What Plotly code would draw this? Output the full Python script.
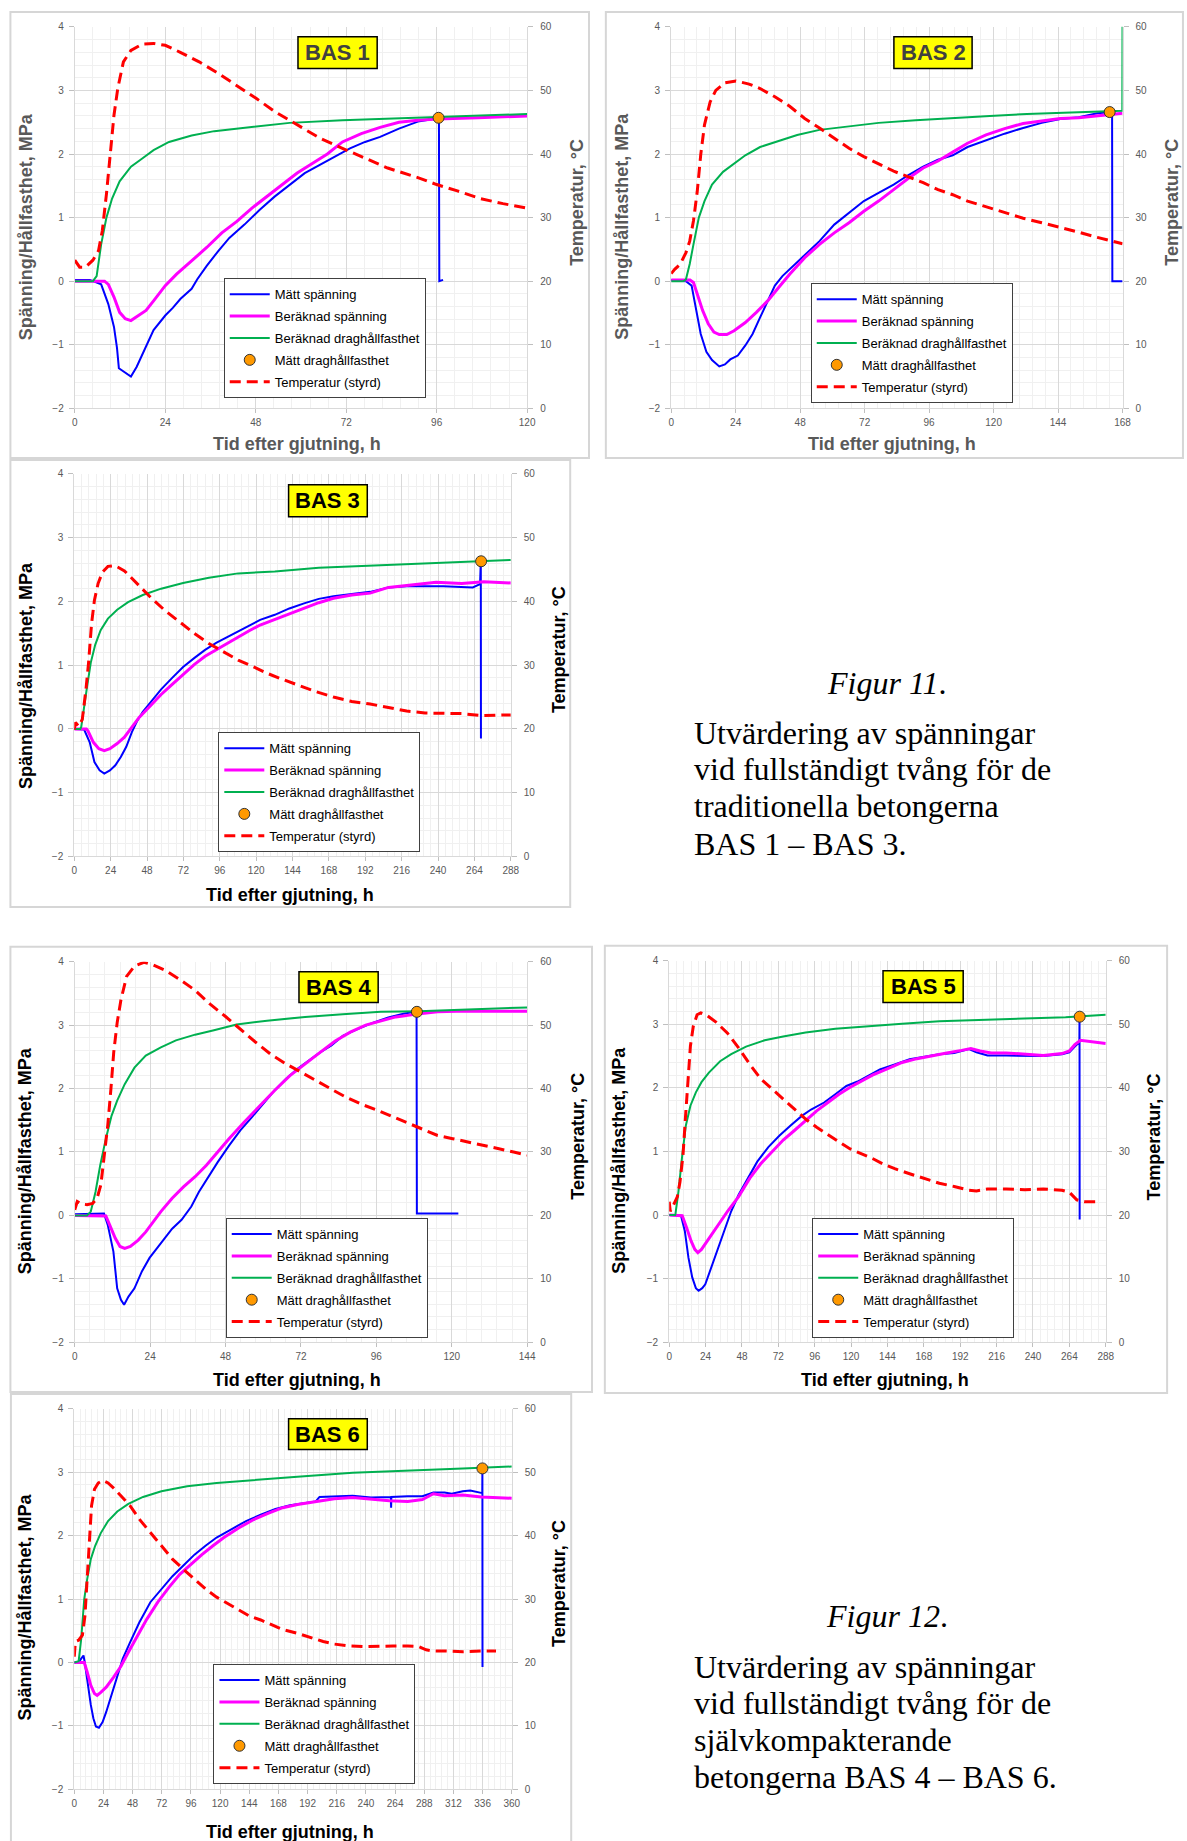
import plotly.graph_objects as go

W, H = 1187, 1841

# ---------------- BAS 1 ----------------
BAS1_MATT_T = [0, 4, 7, 8.9, 10.4, 11.2, 11.7, 12.9, 14.9, 16.4, 18.4, 20.9, 24, 26, 28, 31, 32.5, 35, 38, 41, 45, 49, 53, 57, 61, 65, 69, 73, 77, 81, 86, 91, 96, 96.6, 96.7, 97.7]
BAS1_MATT_V = [0.02, 0.02, -0.05, -0.36, -0.72, -1.05, -1.37, -1.42, -1.50, -1.35, -1.09, -0.77, -0.54, -0.42, -0.28, -0.12, 0.03, 0.24, 0.47, 0.68, 0.89, 1.12, 1.33, 1.51, 1.70, 1.83, 1.96, 2.09, 2.19, 2.27, 2.40, 2.51, 2.56, 2.57, 0.0, 0.02]
BAS1_BER_T = [0, 7.9, 8.9, 10.4, 11.9, 13.4, 14.9, 16.9, 18.9, 20.9, 24, 27, 31, 35, 39, 43, 47, 51, 55, 59, 63, 67, 71, 76, 81, 86, 91, 96, 107, 120]
BAS1_BER_V = [0.0, 0.0, -0.05, -0.25, -0.49, -0.59, -0.62, -0.54, -0.46, -0.31, -0.07, 0.11, 0.32, 0.53, 0.76, 0.94, 1.15, 1.33, 1.52, 1.70, 1.85, 2.00, 2.19, 2.32, 2.42, 2.50, 2.53, 2.55, 2.57, 2.60]
BAS1_DRAG_T = [0, 4.8, 5.8, 7, 8.4, 9.9, 11.9, 14.9, 17.9, 20.9, 25, 31, 37, 47, 57, 71, 91, 120]
BAS1_DRAG_V = [0, 0, 0.08, 0.58, 1.0, 1.3, 1.57, 1.80, 1.93, 2.06, 2.19, 2.29, 2.36, 2.42, 2.49, 2.53, 2.57, 2.63]
BAS1_PROV = ([96.5], [2.57])
BAS1_TEMP_T = [0, 1.3, 2.8, 4.8, 6.3, 7.3, 8.4, 9.4, 10.4, 11.4, 12.9, 14.9, 17.9, 20.9, 24, 28, 33, 38, 43, 48, 53, 59, 65, 71, 77, 83, 91, 96, 101.5, 107.5, 113.6, 120]
BAS1_TEMP_V = [23.3, 22.2, 22.2, 23.3, 24.8, 27.9, 33.7, 40.4, 46.1, 50.3, 54.5, 56.3, 57.3, 57.4, 57.1, 56.0, 54.5, 52.7, 50.8, 48.8, 46.7, 44.6, 42.5, 40.9, 39.4, 37.8, 36.3, 35.2, 34.2, 33.0, 32.2, 31.5]

# ---------------- BAS 2 ----------------
BAS2_MATT_T = [0, 5.5, 7.6, 9, 11, 13.1, 15.2, 17.9, 20, 22, 24.8, 27.6, 30.3, 33.1, 35.9, 38.6, 41.4, 45.5, 49.7, 55.2, 60.7, 66.2, 71.7, 77.2, 82.8, 88.3, 93.8, 99.3, 104.8, 110.3, 117.2, 124.1, 131, 137.9, 144.8, 151.7, 158.6, 163.4, 164.1, 164.2, 168]
BAS2_MATT_V = [0.02, 0.0, -0.07, -0.41, -0.83, -1.11, -1.24, -1.34, -1.31, -1.23, -1.17, -1.01, -0.83, -0.57, -0.31, -0.07, 0.08, 0.24, 0.42, 0.63, 0.89, 1.07, 1.26, 1.39, 1.52, 1.67, 1.80, 1.91, 1.98, 2.11, 2.22, 2.32, 2.41, 2.49, 2.55, 2.58, 2.64, 2.66, 2.66, 0.0, 0.0]
BAS2_BER_T = [0, 7, 8.3, 9.7, 11.7, 13.8, 15.9, 17.9, 20.7, 23.4, 27.6, 31.7, 35.9, 40, 44.1, 49.7, 55.2, 60.7, 66.2, 71.7, 77.2, 82.8, 88.3, 93.8, 99.3, 104.8, 110.3, 117.2, 124.1, 131, 137.9, 144.8, 151.7, 168]
BAS2_BER_V = [0.02, 0.02, -0.02, -0.2, -0.46, -0.67, -0.8, -0.84, -0.84, -0.78, -0.65, -0.49, -0.31, -0.1, 0.11, 0.37, 0.58, 0.76, 0.92, 1.10, 1.26, 1.44, 1.62, 1.78, 1.89, 2.03, 2.17, 2.30, 2.40, 2.48, 2.52, 2.56, 2.57, 2.64]
BAS2_DRAG_T = [0, 4.5, 5.5, 6.9, 8.3, 10.3, 12.4, 15.2, 19.3, 23.4, 27.6, 33.1, 38.6, 46.9, 55.2, 66.2, 77.2, 91, 104.8, 118.6, 132.4, 149, 166.9, 167.9, 168]
BAS2_DRAG_V = [0, 0, 0.03, 0.27, 0.58, 1.0, 1.26, 1.52, 1.72, 1.85, 1.98, 2.11, 2.19, 2.30, 2.38, 2.44, 2.49, 2.53, 2.57, 2.60, 2.63, 2.65, 2.68, 2.68, 4.5]
BAS2_PROV = ([163.2], [2.66])
BAS2_TEMP_T = [0, 1.4, 3.4, 5.5, 6.9, 8.3, 9.7, 11, 12.4, 14.5, 16.6, 20, 24.1, 29, 33.1, 38.6, 44.1, 49.7, 55.2, 60.7, 66.2, 71.7, 77.2, 82.8, 88.3, 93.8, 99.3, 104.8, 110.3, 117.2, 124.1, 131, 137.9, 144.8, 151.7, 158.6, 168]
BAS2_TEMP_V = [21.2, 21.9, 22.7, 24.5, 26.3, 29.5, 34.1, 39.9, 44.6, 48.2, 50.0, 51.2, 51.5, 51.0, 50.3, 49.0, 47.5, 45.6, 44.1, 42.5, 40.9, 39.6, 38.4, 37.3, 36.4, 35.5, 34.4, 33.6, 32.6, 31.7, 30.8, 29.9, 29.2, 28.5, 27.7, 26.9, 25.9]

# ---------------- BAS 3 ----------------
BAS3_MATT_T = [0, 6.5, 10.2, 13.3, 16.7, 19.8, 23.5, 27.1, 30.7, 34.3, 38, 41.6, 45.2, 50.1, 57.3, 64.6, 71.8, 79.1, 86.3, 93.6, 100.8, 108.1, 115.4, 122.6, 132.3, 141.9, 151.6, 161.3, 171, 183.1, 195.2, 207.3, 219.3, 243.5, 262.9, 267.7, 268.2, 268.3]
BAS3_MATT_V = [0.0, -0.01, -0.21, -0.52, -0.65, -0.70, -0.65, -0.57, -0.44, -0.28, -0.05, 0.13, 0.27, 0.41, 0.62, 0.80, 0.97, 1.11, 1.24, 1.35, 1.44, 1.53, 1.63, 1.71, 1.79, 1.89, 1.97, 2.04, 2.08, 2.11, 2.15, 2.22, 2.24, 2.24, 2.22, 2.27, 2.63, -0.15]
BAS3_BER_T = [0, 8, 9, 12.6, 16.2, 19.8, 23.5, 28.3, 33.1, 38, 42.8, 50.1, 57.3, 64.6, 71.8, 79.1, 86.3, 93.6, 100.8, 108.1, 115.4, 122.6, 132.3, 141.9, 151.6, 161.3, 171, 183.1, 195.2, 207.3, 219.3, 238.7, 255.6, 270.1, 288]
BAS3_BER_V = [0.0, 0.0, -0.03, -0.21, -0.31, -0.34, -0.31, -0.23, -0.13, 0.03, 0.18, 0.36, 0.54, 0.70, 0.85, 1.01, 1.14, 1.24, 1.35, 1.45, 1.54, 1.63, 1.72, 1.81, 1.90, 1.98, 2.05, 2.10, 2.13, 2.22, 2.25, 2.30, 2.28, 2.31, 2.29]
BAS3_DRAG_T = [0, 4, 4.6, 6.5, 8.5, 10.9, 13.8, 17.4, 22.2, 28.3, 35.5, 45.2, 57.3, 71.8, 88.8, 108.1, 132.3, 161.3, 195.2, 229, 262.9, 288]
BAS3_DRAG_V = [0, 0, 0.03, 0.31, 0.67, 1.04, 1.32, 1.55, 1.73, 1.87, 1.99, 2.10, 2.20, 2.29, 2.37, 2.44, 2.47, 2.53, 2.56, 2.60, 2.63, 2.65]
BAS3_PROV = ([268.4], [2.63])
BAS3_TEMP_T = [0, 0.8, 2.9, 5.3, 7.7, 9.4, 11.4, 13.3, 15.7, 18.6, 22.2, 27.1, 33.1, 40.4, 50.1, 59.7, 69.4, 79.1, 88.8, 98.4, 108.1, 117.8, 127.5, 137.1, 146.8, 158.9, 171, 183.1, 195.2, 207.3, 219.3, 231.4, 243.5, 255.6, 267.7, 288]
BAS3_TEMP_V = [19.9, 21.0, 20.4, 21.5, 26.2, 30.3, 36.5, 40.2, 42.8, 44.6, 45.5, 45.6, 44.8, 43.0, 40.7, 38.6, 36.8, 35.0, 33.4, 32.1, 30.8, 29.8, 28.7, 27.8, 26.9, 25.9, 25.0, 24.3, 23.9, 23.3, 22.8, 22.5, 22.4, 22.4, 22.1, 22.2]

# ---------------- BAS 4 ----------------
BAS4_MATT_T = [0, 9.3, 10.5, 12.3, 13.5, 14.7, 15.7, 17.1, 19, 21.4, 23.8, 26.2, 28.6, 31, 34, 37.1, 39.5, 42.5, 45.5, 49.1, 52.7, 56.4, 60, 63.6, 67.2, 70.8, 74.5, 78.1, 81.7, 85.3, 90.2, 95, 99.8, 104.6, 108.3, 108.8, 108.9, 122.1]
BAS4_MATT_V = [0.02, 0.03, -0.15, -0.57, -1.15, -1.33, -1.41, -1.28, -1.15, -0.88, -0.67, -0.52, -0.36, -0.21, -0.07, 0.14, 0.37, 0.61, 0.84, 1.10, 1.34, 1.55, 1.76, 1.97, 2.15, 2.31, 2.44, 2.57, 2.68, 2.83, 2.94, 3.04, 3.12, 3.18, 3.21, 3.21, 0.03, 0.03]
BAS4_BER_T = [0, 9.9, 11.1, 12.9, 14.4, 15.9, 17.7, 20.2, 22.6, 25, 27.4, 31, 34.6, 38.3, 41.9, 45.5, 49.1, 53.9, 58.8, 63.6, 68.4, 73.3, 78.1, 82.9, 87.7, 92.6, 97.4, 102.2, 108.3, 115.5, 121.5, 144]
BAS4_BER_V = [0.0, -0.01, -0.15, -0.36, -0.49, -0.52, -0.49, -0.39, -0.26, -0.10, 0.06, 0.27, 0.45, 0.61, 0.79, 1.0, 1.21, 1.47, 1.73, 1.97, 2.20, 2.38, 2.57, 2.75, 2.89, 3.00, 3.07, 3.13, 3.17, 3.21, 3.22, 3.22]
BAS4_DRAG_T = [0, 3.9, 5.1, 6.6, 8.1, 9.9, 11.7, 13.5, 15.9, 19, 22.6, 27.4, 32.2, 38.3, 44.3, 51.5, 61.2, 73.3, 85.3, 97.4, 109.5, 121.5, 133.6, 144]
BAS4_DRAG_V = [0, 0, 0.06, 0.37, 0.79, 1.21, 1.57, 1.81, 2.07, 2.33, 2.52, 2.65, 2.76, 2.85, 2.92, 3.01, 3.07, 3.13, 3.17, 3.21, 3.22, 3.24, 3.26, 3.28]
BAS4_PROV = ([108.9], [3.21])
BAS4_TEMP_T = [0, 0.8, 2.1, 3.9, 5.7, 7.1, 8.3, 9.5, 10.5, 11.5, 12.4, 13.5, 14.7, 16.5, 19, 22, 25, 28.6, 33.4, 38.3, 43.1, 47.9, 52.7, 57.6, 62.4, 67.2, 72, 76.9, 81.7, 86.5, 91.4, 96.2, 101, 105.8, 110.7, 115.5, 120.3, 125.2, 130, 134.8, 139.7, 144]
BAS4_TEMP_V = [20.9, 22.2, 21.8, 21.7, 21.9, 22.7, 24.8, 29.5, 34.2, 39.9, 45.7, 50.4, 54.0, 57.7, 59.3, 59.9, 59.5, 58.7, 57.2, 55.5, 53.3, 51.4, 49.3, 47.3, 45.4, 43.9, 42.6, 41.3, 39.9, 38.6, 37.5, 36.6, 35.6, 34.7, 33.7, 32.6, 32.1, 31.6, 31.1, 30.5, 30.0, 29.5]

# ---------------- BAS 5 ----------------
BAS5_MATT_T = [0, 7.8, 10.3, 12.7, 15.2, 17.6, 19.4, 21.8, 23.8, 26.2, 29.9, 33.6, 37.3, 40.9, 45.8, 50.7, 58.1, 65.4, 72.8, 80.1, 87.5, 93.6, 102.2, 109.6, 116.9, 124.3, 131.6, 139, 148.8, 158.6, 168.4, 178.2, 188, 197.8, 202.7, 210, 222.3, 234.6, 246.8, 259.1, 264, 268.9, 270.6, 270.7, 270.8]
BAS5_MATT_V = [0.0, -0.01, -0.25, -0.67, -0.98, -1.15, -1.19, -1.15, -1.09, -0.93, -0.70, -0.46, -0.2, 0.06, 0.32, 0.53, 0.84, 1.07, 1.25, 1.41, 1.56, 1.66, 1.77, 1.90, 2.03, 2.10, 2.19, 2.29, 2.37, 2.45, 2.49, 2.53, 2.55, 2.61, 2.56, 2.51, 2.51, 2.50, 2.50, 2.53, 2.56, 2.68, 2.71, 3.12, -0.07]
BAS5_BER_T = [0, 8.6, 11.5, 14.5, 16.9, 18.9, 21.3, 25, 28.7, 33.6, 38.5, 45.8, 53.2, 60.5, 67.9, 75.2, 82.6, 90, 97.3, 104.7, 112, 119.4, 126.7, 134.1, 143.8, 153.7, 163.5, 173.3, 183.1, 192.9, 199, 205.1, 212.5, 222.3, 234.6, 246.8, 259.1, 264, 267.6, 271.3, 288]
BAS5_BER_V = [0.0, -0.01, -0.2, -0.41, -0.54, -0.59, -0.54, -0.41, -0.28, -0.12, 0.06, 0.29, 0.58, 0.81, 0.99, 1.18, 1.33, 1.49, 1.64, 1.77, 1.90, 2.01, 2.11, 2.20, 2.30, 2.40, 2.46, 2.51, 2.55, 2.59, 2.62, 2.58, 2.55, 2.55, 2.53, 2.51, 2.54, 2.58, 2.68, 2.75, 2.70]
BAS5_DRAG_T = [0, 4, 4.2, 6.1, 8.6, 11, 14, 17.6, 21.3, 26.2, 33.6, 40.9, 50.7, 63, 75.2, 90, 109.6, 129.2, 153.7, 178.2, 202.7, 232.1, 261.5, 288]
BAS5_DRAG_V = [0, 0, 0.03, 0.37, 0.94, 1.41, 1.72, 1.93, 2.09, 2.24, 2.42, 2.53, 2.65, 2.75, 2.81, 2.87, 2.93, 2.97, 3.01, 3.05, 3.07, 3.09, 3.11, 3.15]
BAS5_PROV = ([270.8], [3.12])
BAS5_TEMP_T = [0, 0.7, 2.9, 5.4, 7.1, 9.1, 10.8, 12.3, 14, 15.9, 18.4, 20.8, 25, 31.1, 38.5, 45.8, 53.2, 60.5, 67.9, 75.2, 82.6, 90, 97.3, 104.7, 112, 119.4, 126.7, 134.1, 141.4, 148.8, 158.6, 168.4, 178.2, 188, 197.8, 202.7, 210, 222.3, 234.6, 246.8, 259.1, 264, 268.9, 273.8, 284.8]
BAS5_TEMP_V = [22.1, 20.6, 21.6, 22.9, 25.2, 29.4, 35.6, 41.4, 46.6, 49.7, 51.5, 51.8, 51.4, 50.3, 48.6, 46.3, 43.7, 41.4, 39.8, 38.2, 36.7, 35.1, 33.8, 32.6, 31.5, 30.4, 29.7, 28.9, 28.0, 27.3, 26.5, 25.8, 25.0, 24.5, 23.9, 23.8, 24.1, 24.1, 24.0, 24.1, 23.9, 23.6, 22.4, 22.1, 22.1]

# ---------------- BAS 6 ----------------
BAS6_MATT_T = [0, 3.6, 5.7, 7.6, 8.8, 11.2, 13.6, 15.7, 17.8, 20.3, 23.3, 26.3, 30.9, 35.4, 39.9, 46, 53.5, 62.6, 71.7, 80.8, 89.8, 98.9, 108, 117.1, 129.2, 141.3, 153.4, 165.5, 177.6, 189.7, 198.7, 201.8, 213.9, 229, 244.1, 260.5, 260.7, 260.9, 274.4, 286.4, 295.5, 304.6, 310.6, 319.7, 325.8, 334.9, 335.7, 335.8, 335.9]
BAS6_MATT_V = [0.0, 0.0, 0.06, 0.11, -0.02, -0.36, -0.67, -0.88, -1.01, -1.03, -0.94, -0.78, -0.49, -0.2, 0.06, 0.32, 0.63, 0.95, 1.16, 1.36, 1.53, 1.70, 1.84, 1.97, 2.10, 2.23, 2.33, 2.42, 2.48, 2.52, 2.54, 2.61, 2.62, 2.63, 2.60, 2.61, 2.44, 2.61, 2.62, 2.62, 2.68, 2.68, 2.66, 2.70, 2.71, 2.67, 2.67, 3.06, -0.07]
BAS6_BER_T = [0, 8.2, 10.6, 13.6, 16.6, 18.8, 21.8, 26.3, 32.4, 38.4, 44.5, 50.5, 59.6, 68.7, 77.7, 86.8, 95.9, 105, 114.1, 123.1, 135.2, 147.3, 159.4, 171.5, 183.6, 198.7, 213.9, 229, 244.1, 259.2, 274.4, 286.4, 295.5, 304.6, 319.7, 334.9, 360]
BAS6_BER_V = [0.0, 0.0, -0.15, -0.36, -0.49, -0.52, -0.47, -0.39, -0.23, -0.06, 0.16, 0.37, 0.68, 0.95, 1.18, 1.39, 1.55, 1.70, 1.84, 1.97, 2.12, 2.25, 2.35, 2.44, 2.49, 2.54, 2.58, 2.60, 2.57, 2.55, 2.54, 2.57, 2.66, 2.63, 2.64, 2.61, 2.59]
BAS6_DRAG_T = [0, 3.6, 5.7, 8.2, 10.6, 13.6, 17.2, 21.8, 27.8, 35.4, 44.5, 56.6, 71.7, 92.9, 117.1, 147.3, 183.6, 229, 274.4, 319.7, 360]
BAS6_DRAG_V = [0, 0.02, 0.37, 1.0, 1.31, 1.63, 1.84, 2.04, 2.23, 2.38, 2.50, 2.61, 2.70, 2.78, 2.83, 2.88, 2.93, 2.99, 3.03, 3.06, 3.09]
BAS6_PROV = ([335.8], [3.06])
BAS6_TEMP_T = [0, 0.9, 3.6, 6.7, 8.8, 10.6, 12.4, 14.2, 16.6, 19.7, 23.3, 27.8, 32.4, 38.4, 46, 53.5, 62.6, 71.7, 80.8, 89.8, 98.9, 108, 117.1, 126.1, 135.2, 144.3, 153.4, 162.4, 171.5, 183.6, 195.7, 204.8, 213.9, 226, 238.1, 250.2, 262.3, 274.4, 283.4, 289.5, 295.5, 304.6, 319.7, 334.9, 347]
BAS6_TEMP_V = [20.9, 23.3, 23.5, 24.3, 27.4, 33.2, 39.4, 44.7, 47.3, 48.3, 48.7, 48.3, 47.5, 46.2, 44.7, 42.6, 40.5, 38.4, 36.3, 34.7, 33.2, 31.6, 30.3, 29.3, 28.2, 27.3, 26.7, 25.9, 25.2, 24.6, 23.9, 23.3, 22.9, 22.6, 22.5, 22.6, 22.6, 22.6, 22.5, 22.0, 21.8, 21.8, 21.7, 21.8, 21.8]

# Series names and axis texts
SERIES_NAMES = ["Mätt spänning", "Beräknad spänning", "Beräknad draghållfasthet",
                "Mätt draghållfasthet", "Temperatur (styrd)"]
Y_TITLE = "Spänning/Hållfasthet, MPa"
Y2_TITLE = "Temperatur, °C"
X_TITLE = "Tid efter gjutning, h"

CAPTION_11 = ["Utvärdering av spänningar", "vid fullständigt tvång för de",
              "traditionella betongerna", "BAS 1 – BAS 3."]
CAPTION_12 = ["Utvärdering av spänningar", "vid fullständigt tvång för de",
              "självkompakterande", "betongerna BAS 4 – BAS 6."]

BLUE, MAGENTA, GREEN, RED, ORANGE = "#0000ff", "#ff00ff", "#00b050", "#ff0000", "#ff9900"
SANS = "Liberation Sans, Arial, sans-serif"
SERIF = "Liberation Serif, Times New Roman, serif"

# Layout of the six panels in page pixels:
# plot = (left, top, right, bottom), frame = outer border, box = title box,
# legend = top-left corner, ylab/rlab/xlab = centres of the axis titles
PANELS = [
    dict(title="BAS 1", xmax=120, plot=(72.5, 21, 529.5, 405), frame=(7.5, 6, 592, 455),
         box=(298, 31, 378, 63), legend=(223, 274), ylab=(23, 222), rlab=(580, 198), xlab=(297, 441),
         ink="#404040",
         data=(BAS1_MATT_T, BAS1_MATT_V, BAS1_BER_T, BAS1_BER_V, BAS1_DRAG_T, BAS1_DRAG_V, BAS1_PROV, BAS1_TEMP_T, BAS1_TEMP_V)),
    dict(title="BAS 2", xmax=168, plot=(675, 21, 1131, 405), frame=(609, 6, 1192, 455),
         box=(900, 31, 979, 63), legend=(816, 279), ylab=(624.5, 222), rlab=(1181, 198), xlab=(898, 441),
         ink="#404040",
         data=(BAS2_MATT_T, BAS2_MATT_V, BAS2_BER_T, BAS2_BER_V, BAS2_DRAG_T, BAS2_DRAG_V, BAS2_PROV, BAS2_TEMP_T, BAS2_TEMP_V)),
    dict(title="BAS 3", xmax=288, plot=(72, 471, 513, 856), frame=(7.5, 457, 573, 907),
         box=(288.5, 482, 368, 514), legend=(217.5, 731), ylab=(22.7, 674), rlab=(561, 648), xlab=(289.5, 895),
         ink="#000000",
         data=(BAS3_MATT_T, BAS3_MATT_V, BAS3_BER_T, BAS3_BER_V, BAS3_DRAG_T, BAS3_DRAG_V, BAS3_PROV, BAS3_TEMP_T, BAS3_TEMP_V)),
    dict(title="BAS 4", xmax=144, plot=(72.5, 962, 529.5, 1345), frame=(7.5, 947, 595, 1395),
         box=(299, 972, 379, 1003), legend=(225, 1220), ylab=(23, 1162), rlab=(580, 1138), xlab=(297, 1383),
         ink="#000000",
         data=(BAS4_MATT_T, BAS4_MATT_V, BAS4_BER_T, BAS4_BER_V, BAS4_DRAG_T, BAS4_DRAG_V, BAS4_PROV, BAS4_TEMP_T, BAS4_TEMP_V)),
    dict(title="BAS 5", xmax=288, plot=(673, 961, 1114, 1345), frame=(608, 946, 1176, 1396),
         box=(889, 971, 970, 1003), legend=(817.5, 1220), ylab=(622.6, 1162), rlab=(1162.6, 1138), xlab=(890.7, 1383),
         ink="#000000",
         data=(BAS5_MATT_T, BAS5_MATT_V, BAS5_BER_T, BAS5_BER_V, BAS5_DRAG_T, BAS5_DRAG_V, BAS5_PROV, BAS5_TEMP_T, BAS5_TEMP_V)),
    dict(title="BAS 6", xmax=360, plot=(72, 1412, 514, 1795), frame=(8, 1397, 574, 1850),
         box=(288.5, 1422, 368, 1453), legend=(212.6, 1669), ylab=(22.3, 1612), rlab=(561, 1588), xlab=(289.5, 1838),
         ink="#000000",
         data=(BAS6_MATT_T, BAS6_MATT_V, BAS6_BER_T, BAS6_BER_V, BAS6_DRAG_T, BAS6_DRAG_V, BAS6_PROV, BAS6_TEMP_T, BAS6_TEMP_V)),
]


def fx(px):
    return px / W


def fy(py):
    return 1 - py / H


def suffix(n):
    return "" if n == 1 else str(n)


fig = go.Figure()
layout = dict(width=W, height=H, margin=dict(l=0, r=0, t=0, b=0),
              paper_bgcolor="white", plot_bgcolor="white", showlegend=True)
shapes, annotations = [], []

TICK_FONT = dict(family=SANS, size=10, color="#595959")
GRID = "#d9d9d9"
MINOR_GRID = "#f0f0f0"

for i, p in enumerate(PANELS, start=1):
    xid = "x" + suffix(i)
    y1n, y2n = 2 * i - 1, 2 * i
    y1id, y2id = "y" + suffix(y1n), "y" + suffix(y2n)
    leg = "legend" + suffix(i)
    l, t, r, b = p["plot"]

    layout["xaxis" + suffix(i)] = dict(
        domain=[fx(l), fx(r)], anchor=y1id, range=[0, p["xmax"]],
        tick0=0, dtick=24, ticks="outside", ticklen=4, tickcolor="#bfbfbf",
        showgrid=True, gridcolor=GRID, gridwidth=1, zeroline=False,
        showline=True, linecolor=GRID, tickfont=TICK_FONT, ticklabelstandoff=1,
        minor=dict(dtick=4.8, tick0=0, showgrid=True, gridcolor=MINOR_GRID, ticks=""),
    )
    layout["yaxis" + suffix(y1n)] = dict(
        domain=[fy(b), fy(t)], anchor=xid, range=[-2, 4], tick0=0, dtick=1,
        ticks="outside", ticklen=5, tickcolor="#bfbfbf",
        showgrid=True, gridcolor=GRID, zeroline=False, showline=True, linecolor=GRID,
        tickfont=TICK_FONT, ticklabelstandoff=3,
        minor=dict(dtick=0.2, tick0=0, showgrid=True, gridcolor=MINOR_GRID, ticks=""),
    )
    layout["yaxis" + suffix(y2n)] = dict(
        overlaying=y1id, anchor=xid, side="right", range=[0, 60], tick0=0, dtick=10,
        ticks="outside", ticklen=5, tickcolor="#bfbfbf", showgrid=False, zeroline=False,
        showline=True, linecolor=GRID, tickfont=TICK_FONT, ticklabelstandoff=5,
    )

    mt, mv, bt, bv, dt, dv, prov, tt, tv = p["data"]
    common = dict(xaxis=xid, legend=leg)
    fig.add_trace(go.Scatter(x=mt, y=mv, mode="lines", name=SERIES_NAMES[0], yaxis=y1id,
                             line=dict(color=BLUE, width=2), legendgroup=f"a{i}", **common))
    fig.add_trace(go.Scatter(x=bt, y=bv, mode="lines", name=SERIES_NAMES[1], yaxis=y1id,
                             line=dict(color=MAGENTA, width=3), legendgroup=f"b{i}", **common))
    fig.add_trace(go.Scatter(x=dt, y=dv, mode="lines", name=SERIES_NAMES[2], yaxis=y1id,
                             line=dict(color=GREEN, width=2), legendgroup=f"c{i}", **common))
    fig.add_trace(go.Scatter(x=prov[0], y=prov[1], mode="markers", name=SERIES_NAMES[3], yaxis=y1id,
                             marker=dict(color=ORANGE, size=11, line=dict(color="#333333", width=1)),
                             cliponaxis=False, legendgroup=f"d{i}", **common))
    fig.add_trace(go.Scatter(x=tt, y=tv, mode="lines", name=SERIES_NAMES[4], yaxis=y2id,
                             line=dict(color=RED, width=3, dash="11px,6px"), legendgroup=f"e{i}", **common))

    lx, ly = p["legend"]
    layout[leg] = dict(x=fx(lx), y=fy(ly), xanchor="left", yanchor="top",
                       bgcolor="white", bordercolor="#404040", borderwidth=1,
                       font=dict(family=SANS, size=13, color="#000000"),
                       traceorder="grouped", tracegroupgap=2, itemwidth=40)

    # outer panel frame
    fl, ft, fr, fb = p["frame"]
    shapes.append(dict(type="rect", xref="paper", yref="paper", x0=fx(fl), x1=fx(fr),
                       y0=fy(fb), y1=fy(ft), line=dict(color="#d6d6d6", width=2), layer="below"))
    # yellow title box
    bl, bt_, br, bb = p["box"]
    shapes.append(dict(type="rect", xref="paper", yref="paper", x0=fx(bl), x1=fx(br),
                       y0=fy(bb), y1=fy(bt_), fillcolor="#ffff00",
                       line=dict(color="#000000", width=1.5), layer="above"))
    annotations.append(dict(text=p["title"], xref="paper", yref="paper",
                            x=fx((bl + br) / 2), y=fy((bt_ + bb) / 2), xanchor="center", yanchor="middle",
                            showarrow=False, font=dict(family=SANS, size=22, color=p["ink"], weight="bold")))
    # axis titles
    title_font = dict(family=SANS, size=18, color=p["ink"] if p["ink"] == "#000000" else "#595959", weight="bold")
    annotations.append(dict(text=Y_TITLE, xref="paper", yref="paper", x=fx(p["ylab"][0]), y=fy(p["ylab"][1]),
                            xanchor="center", yanchor="middle", textangle=-90, showarrow=False, font=title_font))
    annotations.append(dict(text=Y2_TITLE, xref="paper", yref="paper", x=fx(p["rlab"][0]), y=fy(p["rlab"][1]),
                            xanchor="center", yanchor="middle", textangle=-90, showarrow=False, font=title_font))
    annotations.append(dict(text=X_TITLE, xref="paper", yref="paper", x=fx(p["xlab"][0]), y=fy(p["xlab"][1]),
                            xanchor="center", yanchor="middle", showarrow=False, font=title_font))

# captions beside the figure groups
CAP_SIZE = 32
for head, lines, head_y, line_ys in (
        ("Figur 11.", CAPTION_11, 681, [732, 768, 805, 843]),
        ("Figur 12.", CAPTION_12, 1621, [1672, 1708, 1745, 1783])):
    annotations.append(dict(text=f"<i>{head[:-1]}</i>.", xref="paper", yref="paper", x=fx(893), y=fy(head_y),
                            xanchor="center", yanchor="middle", showarrow=False,
                            font=dict(family=SERIF, size=CAP_SIZE, color="#000000")))
    for txt, yy in zip(lines, line_ys):
        annotations.append(dict(text=txt, xref="paper", yref="paper", x=fx(696), y=fy(yy),
                                xanchor="left", yanchor="middle", showarrow=False,
                                font=dict(family=SERIF, size=CAP_SIZE, color="#000000")))

layout["shapes"] = shapes
layout["annotations"] = annotations
fig.update_layout(**layout)
fig.write_html("out.html")
